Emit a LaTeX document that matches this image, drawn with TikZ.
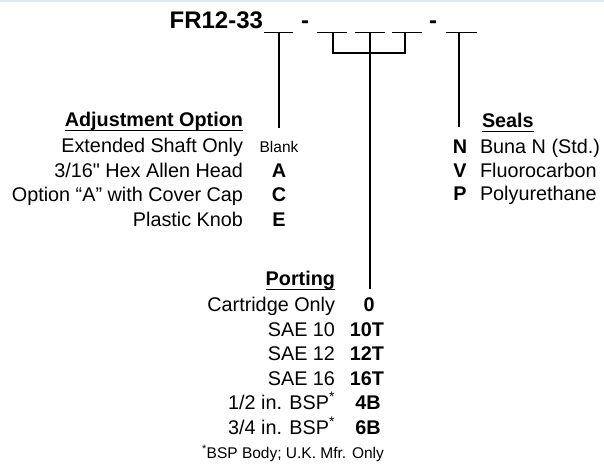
\documentclass[tikz,border=0pt]{standalone}
\usepackage{fontspec}
\setmainfont{Liberation Sans}
\newfontfamily\inchfont{Liberation Sans}
\begin{document}
\begin{tikzpicture}[x=1pt,y=-1pt,
  every node/.style={inner sep=0pt, outer sep=0pt},
  lbl/.style={font=\fontsize{19.8}{24}\selectfont, anchor=base east},
  lblr/.style={font=\fontsize{19.8}{24}\selectfont, anchor=base west},
  code/.style={font=\fontsize{19.8}{24}\selectfont\bfseries, anchor=base},
  hd/.style={font=\fontsize{19.8}{24}\selectfont\bfseries},
  smalltxt/.style={font=\fontsize{15.5}{18}\selectfont},
  title/.style={font=\fontsize{24}{28}\selectfont\bfseries},
  ln/.style={line width=1.2pt, black},
  ul/.style={line width=1.4pt, black}]
\useasboundingbox (0,0) rectangle (604,463);
\fill[white] (0,0) rectangle (604,463);
\draw[line width=1.5pt, color={rgb,255:red,224;green,230;blue,242}] (0,0.75) -- (604,0.75);

% title
\node[title, anchor=base east] (t) at (263,28) {FR12-33};
\node[title, anchor=base] (d1) at (305,28) {-};
\node[title, anchor=base] (d2) at (433,28) {-};

% blanks
\coordinate (b1l) at (264,32.5); \coordinate (b1r) at (293,32.5); \coordinate (b1) at (279,32.5);
\coordinate (b2l) at (317,32.5); \coordinate (b2r) at (347,32.5); \coordinate (b2) at (333,32.5);
\coordinate (b3l) at (355,32.5); \coordinate (b3r) at (385,32.5); \coordinate (b3) at (370,32.5);
\coordinate (b4l) at (392,32.5); \coordinate (b4r) at (422,32.5); \coordinate (b4) at (405,32.5);
\coordinate (b5l) at (446,32.5); \coordinate (b5r) at (477,32.5); \coordinate (b5) at (459,32.5);
\foreach \i in {1,...,5} {\draw[ln] (b\i l) -- (b\i r);}

\coordinate (e1) at (279,128);
\coordinate (e2) at (333,53);
\coordinate (e4) at (405,53);
\coordinate (e3) at (370,289);
\coordinate (e5) at (459,127);
\draw[ln] (b1) -- (e1);
\draw[ln] (b2) -- (e2) -- (e4) -- (b4);
\draw[ln] (b3) -- (e3);
\draw[ln] (b5) -- (e5);

% Adjustment option
\node[hd, anchor=base east] (ha) at (243,126.7) {Adjustment Option};
\draw[ul] ([yshift=-4pt]ha.base west) -- ([yshift=-4pt]ha.base east);
\node[lbl] (a1) at (243,152.5) {Extended Shaft Only};
\node[smalltxt, anchor=base] (c1) at (279,152.5) {Blank};
\node[lbl] (a2) at (243,177) {3/16{\inchfont"} Hex Allen Head};
\node[code] (c2) at (279,177) {A};
\node[lbl] (a3) at (243,201) {Option “A” with Cover Cap};
\node[code] (c3) at (279,201) {C};
\node[lbl] (a4) at (243,226) {Plastic Knob};
\node[code] (c4) at (279,226) {E};

% Seals
\node[hd, anchor=base west] (hs) at (482,127.3) {Seals};
\draw[ul] ([yshift=-4pt]hs.base west) -- ([yshift=-4pt]hs.base east);
\node[code] (s1) at (460,153) {N};
\node[lblr] (t1) at (480,153) {Buna N (Std.)};
\node[code] (s2) at (460,177) {V};
\node[lblr] (t2) at (480,177) {Fluorocarbon};
\node[code] (s3) at (460,200.5) {P};
\node[lblr] (t3) at (480,200.5) {Polyurethane};

% Porting
\node[hd, anchor=base east] (hp) at (335,285.7) {Porting};
\draw[ul] ([yshift=-4pt]hp.base west) -- ([yshift=-4pt]hp.base east);
\node[lbl] (p1) at (335,311.7) {Cartridge Only};
\node[code] (q1) at (369,311.7) {0};
\node[lbl] (p2) at (335,336) {SAE 10};
\node[code] (q2) at (367,336) {10T};
\node[lbl] (p3) at (335,360.7) {SAE 12};
\node[code] (q3) at (367,360.7) {12T};
\node[lbl] (p4) at (335,385) {SAE 16};
\node[code] (q4) at (367,385) {16T};
\node[lbl] (p5) at (335,409) {1/2 in. BSP\textsuperscript{*}};
\node[code] (q5) at (368,409) {4B};
\node[lbl] (p6) at (335,434) {3/4 in. BSP\textsuperscript{*}};
\node[code] (q6) at (368,434) {6B};
\node[smalltxt, anchor=base west] (fn) at (202,458) {\textsuperscript{*}BSP Body; U.K. Mfr. Only};
\end{tikzpicture}
\end{document}
